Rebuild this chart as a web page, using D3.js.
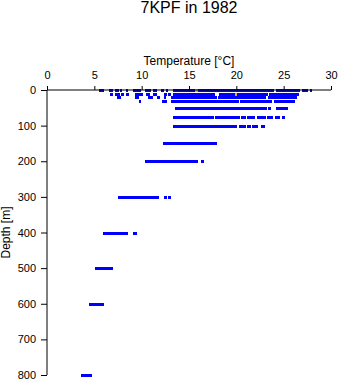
<!DOCTYPE html>
<html>
<head>
<meta charset="utf-8">
<script src="https://cdn.jsdelivr.net/npm/d3@7"></script>
<style>
  html, body { margin: 0; padding: 0; background: #fff; }
  svg { display: block; font-family: "Liberation Sans", Arial, sans-serif; }
</style>
</head>
<body>
<svg id="chart" width="341" height="384"></svg>
<script>
// Sampled depths (m) of the 1982 temperature profiles
const depths = [0, 10, 20, 30, 50, 75, 100, 150, 200, 300, 400, 500, 600, 800];

// Observed temperature runs (°C) at each depth: [lowest, highest] of densely packed readings
const tempRuns = [
  [[5.5, 6.06], [6.52, 6.94], [7.22, 7.57], [7.71, 7.96], [8.31, 8.6], [9.13, 9.97], [10.32, 10.99],
   [11.24, 11.59], [12.01, 12.36], [12.54, 12.78], [13.35, 23.98], [24.16, 26.69], [26.9, 27.6], [27.75, 28.03]],
  [[6.62, 7.01], [7.22, 7.68], [7.79, 8.1], [8.31, 8.63], [9.26, 10.11], [10.43, 10.92], [11.24, 11.59],
   [12.33, 12.64], [12.78, 13.14], [13.28, 17.71], [18.14, 23.0], [23.05, 23.35], [23.49, 26.59]],
  [[7.36, 7.79], [9.34, 9.76], [10.64, 11.24], [11.59, 11.9], [12.33, 12.61], [13.07, 17.96],
   [18.03, 23.17], [23.39, 26.45]],
  [[9.69, 9.97], [12.19, 12.64], [13.14, 20.28], [20.43, 23.81], [23.95, 26.17]],
  [[13.49, 14.02], [14.09, 23.21], [23.31, 23.63], [24.16, 25.43]],
  [[13.35, 17.61], [17.71, 20.39], [20.46, 20.99], [21.17, 21.94], [22.18, 23.13], [23.21, 23.84],
   [24.13, 24.58], [24.79, 25.11]],
  [[13.28, 20.07], [20.32, 20.99], [21.1, 21.52], [21.7, 22.33], [22.65, 23.03]],
  [[12.22, 17.93]],
  [[10.32, 15.92], [16.24, 16.55]],
  [[7.47, 11.8], [12.33, 12.64], [12.78, 13.14]],
  [[5.88, 8.6], [9.05, 9.55]],
  [[5.04, 6.94]],
  [[4.4, 5.99]],
  [[3.56, 4.72]]
];

// Flagged readings
const flaggedTemps = [15.78, 19.95];
const flaggedDepths = [0, 10];

const xTicks = [0, 5, 10, 15, 20, 25, 30];
const yTicks = [0, 100, 200, 300, 400, 500, 600, 700, 800];

const svg = d3.select("#chart");
const plotLeft = 47, plotRight = 331, plotTop = 90, plotBottom = 375;

const x = d3.scaleLinear().domain([0, 30]).range([plotLeft, plotRight]);
const y = d3.scaleLinear().domain([0, 800]).range([plotTop, plotBottom]);

// Title
svg.append("text")
  .attr("x", (plotLeft + plotRight) / 2).attr("y", 13)
  .attr("text-anchor", "middle")
  .attr("font-size", 16)
  .text("7KPF in 1982");

// Data runs
const runs = [];
depths.forEach((d, i) => tempRuns[i].forEach(r => runs.push({ depth: d, lo: r[0], hi: r[1] })));

svg.append("g").selectAll("rect").data(runs).join("rect")
  .attr("x", d => x(d.lo))
  .attr("width", d => Math.max(2, x(d.hi) - x(d.lo)))
  .attr("y", d => Math.round(y(d.depth)) - 1)
  .attr("height", 3)
  .attr("fill", "#0000ff")
  .attr("shape-rendering", "crispEdges");

svg.append("g").selectAll("rect").data(flaggedTemps).join("rect")
  .attr("x", (d) => x(d) - 1)
  .attr("width", 2.5)
  .attr("y", (d, i) => Math.round(y(flaggedDepths[i])) - 1)
  .attr("height", 3)
  .attr("fill", "#ffa500")
  .attr("shape-rendering", "crispEdges");

// Axes
const xAxis = d3.axisTop(x).tickValues(xTicks).tickSize(4).tickPadding(7).tickFormat(d3.format("d"));
const gx = svg.append("g").attr("transform", `translate(0,${plotTop})`).call(xAxis);
gx.select(".domain").attr("d", `M${plotLeft},0H${plotRight}`);

const yAxis = d3.axisLeft(y).tickValues(yTicks).tickSize(6).tickPadding(5).tickFormat(d3.format("d"));
const gy = svg.append("g").attr("transform", `translate(${plotLeft},0)`).call(yAxis);
gy.select(".domain").attr("d", `M0,${plotTop}V${plotBottom}`);

svg.selectAll(".tick text").attr("font-size", 11).attr("font-family", "Liberation Sans, Arial, sans-serif").attr("fill", "#000");
svg.selectAll(".domain, .tick line").attr("stroke", "#000").attr("stroke-width", 1);

// Axis titles
svg.append("text")
  .attr("x", (plotLeft + plotRight) / 2).attr("y", 65)
  .attr("text-anchor", "middle")
  .attr("font-size", 12)
  .text("Temperature [°C]");

svg.append("text")
  .attr("transform", `translate(10,${(plotTop + plotBottom) / 2}) rotate(-90)`)
  .attr("text-anchor", "middle")
  .attr("font-size", 12)
  .text("Depth [m]");
</script>
</body>
</html>
